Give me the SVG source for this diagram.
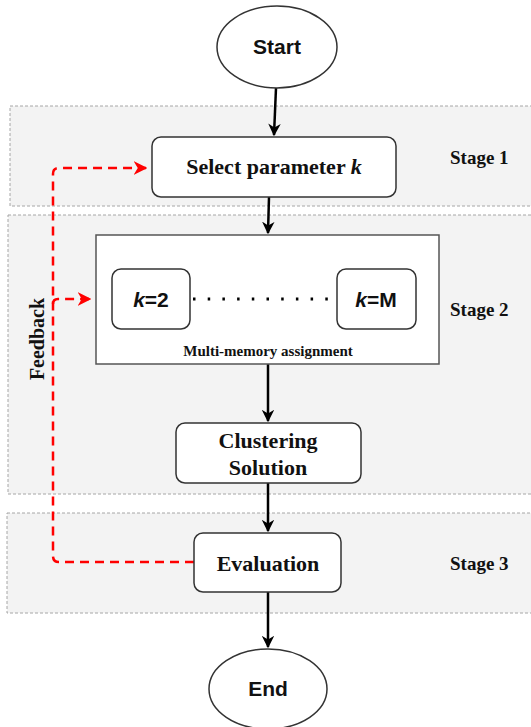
<svg xmlns="http://www.w3.org/2000/svg" width="531" height="727" viewBox="0 0 531 727">
<defs>
<style>
.band{fill:#f3f3f3;stroke:#a6a6a6;stroke-width:1;stroke-dasharray:3 2}
.node{fill:#fff;stroke:#333;stroke-width:1.5}
.tnr{font-family:"Liberation Serif","Times New Roman",serif;font-weight:bold;fill:#111}
.sans{font-family:"Liberation Sans",Arial,sans-serif;font-weight:bold;fill:#111}
.arrow{fill:none;stroke:#000;stroke-width:2.5;marker-end:url(#ab)}
.fb{fill:none;stroke:#ff0000;stroke-width:2.5;stroke-dasharray:9 6}
</style>
<marker id="ab" viewBox="0 0 10 10" refX="9" refY="5" markerWidth="5" markerHeight="5" markerUnits="strokeWidth" orient="auto">
<path d="M0,0 L10,5 L0,10 L3,5 Z" fill="#000"/>
</marker>
<marker id="ar" viewBox="0 0 10 10" refX="9" refY="5" markerWidth="5.5" markerHeight="5.5" markerUnits="strokeWidth" orient="auto">
<path d="M0,0 L10,5 L0,10 L3,5 Z" fill="#ff0000"/>
</marker>
</defs>
<g id="bands">
<rect class="band" x="10" y="106" width="530" height="100"/>
<rect class="band" x="8" y="215" width="532" height="279"/>
<rect class="band" x="7" y="513" width="533" height="100"/>
<text class="tnr" x="450" y="164" font-size="19">Stage 1</text>
<text class="tnr" x="450" y="316" font-size="19">Stage 2</text>
<text class="tnr" x="450" y="570" font-size="19">Stage 3</text>
</g>
<g id="connectors">
<path class="arrow" d="M276,88 L274,135"/>
<path class="arrow" d="M269,197 L268,233"/>
<path class="arrow" d="M268,364 L268,421"/>
<path class="arrow" d="M268,483 L268,531"/>
<path class="arrow" d="M268,592 L268,647"/>
<path class="fb" d="M194,562 H59 Q53,562 53,556 V174 Q53,168 59,168 H146" marker-end="url(#ar)"/>
<path class="fb" d="M53,304 Q53,299 58,299 H90" marker-end="url(#ar)"/>
<text class="tnr" transform="translate(44,339) rotate(-90)" text-anchor="middle" font-size="20">Feedback</text>
</g>
<g id="start">
<ellipse class="node" cx="277" cy="47" rx="60" ry="41" stroke-width="1.2"/>
<text class="sans" x="277" y="54" text-anchor="middle" font-size="21">Start</text>
</g>
<g id="select">
<rect class="node" x="152" y="137" width="244" height="60" rx="9"/>
<text class="tnr" x="274" y="174" text-anchor="middle" font-size="22">Select parameter <tspan font-style="italic">k</tspan></text>
</g>
<g id="multi">
<rect x="96" y="235" width="343" height="129" fill="#fff" stroke="#555" stroke-width="1.5"/>
<text class="tnr" x="268" y="356" text-anchor="middle" font-size="15">Multi-memory assignment</text>
<line x1="193" y1="299" x2="335" y2="299" stroke="#000" stroke-width="3" stroke-dasharray="2.5 12.2"/>
</g>
<g id="k2">
<rect class="node" x="112" y="269" width="78" height="60" rx="9"/>
<text class="sans" x="151" y="307" text-anchor="middle" font-size="21"><tspan font-style="italic">k</tspan>=2</text>
</g>
<g id="kM">
<rect class="node" x="337" y="269" width="79" height="60" rx="9"/>
<text class="sans" x="376" y="307" text-anchor="middle" font-size="21"><tspan font-style="italic">k</tspan>=M</text>
</g>
<g id="clustering">
<rect class="node" x="176" y="423" width="185" height="60" rx="9"/>
<text class="tnr" x="268" y="448" text-anchor="middle" font-size="22">Clustering</text>
<text class="tnr" x="268" y="475" text-anchor="middle" font-size="22">Solution</text>
</g>
<g id="evaluation">
<rect class="node" x="194" y="533" width="147" height="59" rx="9"/>
<text class="tnr" x="268" y="571" text-anchor="middle" font-size="22">Evaluation</text>
</g>
<g id="end">
<ellipse class="node" cx="268" cy="689" rx="59" ry="40" stroke-width="1.2"/>
<text class="sans" x="268" y="696" text-anchor="middle" font-size="21">End</text>
</g>
</svg>
